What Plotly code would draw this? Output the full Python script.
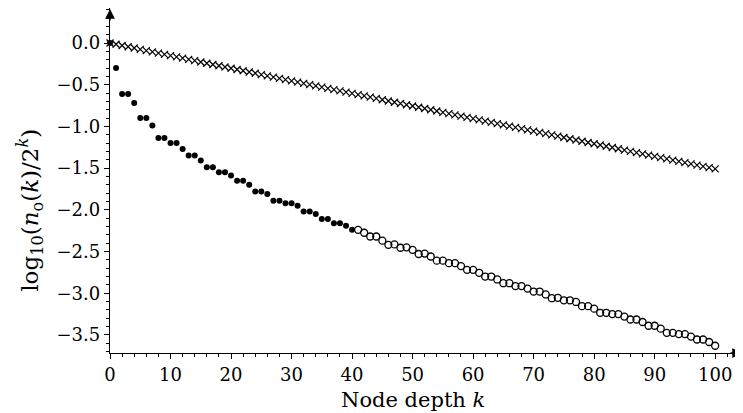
import plotly.graph_objects as go

depth = list(range(101))

filled_k = list(range(0, 41))
filled_y = [0.0, -0.30, -0.61, -0.61, -0.72, -0.90, -0.90, -0.99, -1.14, -1.14,
            -1.20, -1.20, -1.27, -1.35, -1.35, -1.41, -1.49, -1.49, -1.55, -1.55,
            -1.59, -1.65, -1.65, -1.70, -1.78, -1.78, -1.81, -1.89, -1.89, -1.92,
            -1.92, -1.95, -2.02, -2.02, -2.05, -2.11, -2.11, -2.16, -2.16, -2.19,
            -2.24]

open_k = list(range(41, 101))
open_y = [-2.24, -2.275, -2.32, -2.32, -2.37, -2.42, -2.415, -2.455, -2.45, -2.48,
          -2.53, -2.525, -2.56, -2.61, -2.61, -2.64, -2.64, -2.675, -2.72, -2.72,
          -2.755, -2.80, -2.80, -2.835, -2.88, -2.88, -2.915, -2.915, -2.945, -2.98,
          -2.98, -3.015, -3.06, -3.055, -3.085, -3.085, -3.105, -3.155, -3.155, -3.185,
          -3.235, -3.235, -3.25, -3.25, -3.28, -3.315, -3.315, -3.345, -3.39, -3.39,
          -3.425, -3.475, -3.475, -3.49, -3.49, -3.52, -3.555, -3.555, -3.585, -3.63]

cross_y = [0.0, -0.015, -0.030, -0.045, -0.060, -0.076, -0.091, -0.106, -0.121, -0.136,
           -0.151, -0.166, -0.181, -0.196, -0.211, -0.227, -0.242, -0.257, -0.272, -0.287,
           -0.302, -0.317, -0.332, -0.347, -0.362, -0.378, -0.393, -0.408, -0.423, -0.438,
           -0.453, -0.468, -0.483, -0.498, -0.513, -0.529, -0.544, -0.559, -0.574, -0.589,
           -0.604, -0.619, -0.634, -0.649, -0.664, -0.680, -0.695, -0.710, -0.725, -0.740,
           -0.755, -0.770, -0.785, -0.800, -0.815, -0.831, -0.846, -0.861, -0.876, -0.891,
           -0.906, -0.921, -0.936, -0.951, -0.966, -0.982, -0.997, -1.012, -1.027, -1.042,
           -1.057, -1.072, -1.087, -1.102, -1.117, -1.133, -1.148, -1.163, -1.178, -1.193,
           -1.208, -1.223, -1.238, -1.253, -1.268, -1.284, -1.299, -1.314, -1.329, -1.344,
           -1.359, -1.374, -1.389, -1.404, -1.419, -1.435, -1.450, -1.465, -1.480, -1.495,
           -1.510]

x_ticks = [0, 10, 20, 30, 40, 50, 60, 70, 80, 90, 100]
y_ticks = [0.0, -0.5, -1.0, -1.5, -2.0, -2.5, -3.0, -3.5]

FONT = "DejaVu Serif"
XMAX = 104.6
YMIN, YMAX = -3.717, 0.42

fig = go.Figure()
fig.add_trace(go.Scatter(x=depth, y=cross_y, mode="markers",
                         marker=dict(symbol="x-thin", size=7, color="black",
                                     line=dict(color="black", width=1.2)),
                         cliponaxis=False, showlegend=False))
fig.add_trace(go.Scatter(x=open_k, y=open_y, mode="markers",
                         marker=dict(symbol="circle-open", size=7, color="black",
                                     line=dict(color="black", width=1.3)),
                         cliponaxis=False, showlegend=False))
fig.add_trace(go.Scatter(x=filled_k, y=filled_y, mode="markers",
                         marker=dict(symbol="circle", size=6, color="black"),
                         cliponaxis=False, showlegend=False))

axis_common = dict(showgrid=False, zeroline=False, showline=True, linecolor="black",
                   linewidth=1.3, ticks="outside", ticklen=5, tickwidth=1.2,
                   tickcolor="black", tickfont=dict(family=FONT, size=18, color="black"))

fig.update_xaxes(range=[0, XMAX], tickvals=x_ticks, ticktext=[str(v) for v in x_ticks],
                 minor=dict(dtick=2, tick0=0, ticks="outside", ticklen=3,
                            tickwidth=1, tickcolor="black"),
                 anchor="y", position=0, **axis_common)
fig.update_yaxes(range=[YMIN, YMAX], tickvals=y_ticks,
                 ticktext=[("\u2212%.1f" % abs(v)) if v < 0 else "%.1f" % v for v in y_ticks],
                 minor=dict(dtick=0.1, tick0=0, ticks="outside", ticklen=3,
                            tickwidth=1, tickcolor="black"),
                 **axis_common)

# arrow heads at axis ends
fig.add_annotation(x=1.0, y=0, xref="paper", yref="paper", ax=-14, ay=0,
                   showarrow=True, arrowhead=2, arrowsize=1.5, arrowwidth=1.3,
                   arrowcolor="black", text="")
fig.add_annotation(x=0, y=1.0, xref="paper", yref="paper", ax=0, ay=14,
                   showarrow=True, arrowhead=2, arrowsize=1.5, arrowwidth=1.3,
                   arrowcolor="black", text="")

fig.add_annotation(x=0.479, y=-0.136, xref="paper", yref="paper", showarrow=False,
                   text="Node depth <i>k</i>", font=dict(family=FONT, size=21, color="black"),
                   xanchor="center", yanchor="middle")
fig.add_annotation(x=-0.127, y=0.414, xref="paper", yref="paper", showarrow=False,
                   textangle=-90,
                   text="log<sub>10</sub>(<i>n</i><sub>o</sub>(<i>k</i>)/2<sup><i>k</i></sup>)",
                   font=dict(family=FONT, size=23, color="black"),
                   xanchor="center", yanchor="middle")

fig.update_layout(width=735, height=405, margin=dict(l=102, r=0, t=0, b=60),
                  paper_bgcolor="white", plot_bgcolor="white")

fig.write_html("out.html")
